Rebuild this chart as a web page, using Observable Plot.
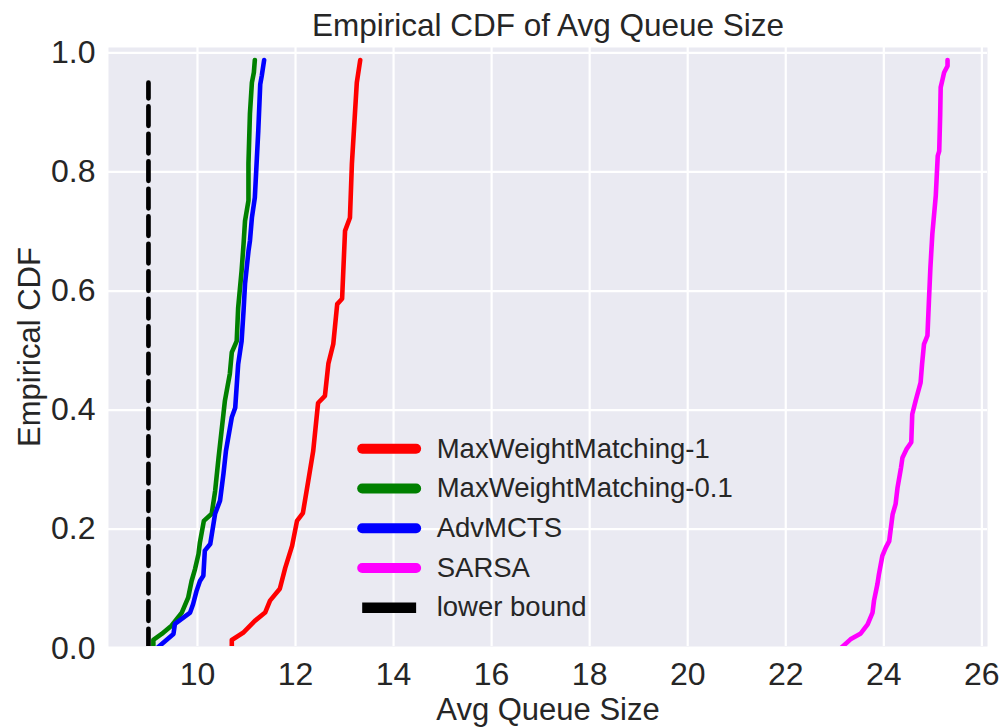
<!DOCTYPE html>
<html>
<head>
<meta charset="utf-8">
<script src="https://cdn.jsdelivr.net/npm/d3@7"></script>
<script src="https://cdn.jsdelivr.net/npm/@observablehq/plot@0.6"></script>
<style>
  html, body { margin: 0; padding: 0; background: #ffffff; }
  #chart { width: 1002px; height: 727px; }
  svg { font-family: "Liberation Sans", Arial, sans-serif; }
</style>
</head>
<body>
<div id="chart"></div>
<script>
// ---- data ----
const seriesNames = ["MaxWeightMatching-1", "MaxWeightMatching-0.1", "AdvMCTS", "SARSA"];
const seriesColors = ["#ff0000", "#008000", "#0000ff", "#ff00ff"];

const mwm1X = [10.70, 10.70, 10.93, 11.17, 11.38, 11.48, 11.68, 11.79, 11.93, 12.03, 12.15, 12.26, 12.36, 12.46, 12.60, 12.67, 12.77, 12.85, 12.95, 13.01, 13.11, 13.15, 13.25, 13.32];
const mwm1Y = [0.000, 0.014, 0.026, 0.046, 0.060, 0.080, 0.100, 0.135, 0.172, 0.214, 0.227, 0.281, 0.331, 0.412, 0.424, 0.478, 0.511, 0.578, 0.587, 0.701, 0.723, 0.814, 0.950, 0.988];

const mwm01X = [9.10, 9.10, 9.27, 9.47, 9.68, 9.81, 9.88, 9.95, 10.02, 10.05, 10.13, 10.29, 10.36, 10.43, 10.53, 10.56, 10.66, 10.70, 10.80, 10.83, 10.90, 10.94, 10.97, 11.04, 11.04, 11.07, 11.11, 11.15, 11.17];
const mwm01Y = [0.000, 0.014, 0.024, 0.038, 0.060, 0.085, 0.113, 0.133, 0.158, 0.178, 0.214, 0.226, 0.264, 0.320, 0.394, 0.416, 0.461, 0.497, 0.516, 0.572, 0.634, 0.679, 0.718, 0.752, 0.814, 0.898, 0.950, 0.967, 0.988];

const advX = [9.17, 9.51, 9.54, 9.85, 9.91, 9.98, 10.05, 10.12, 10.15, 10.26, 10.36, 10.46, 10.53, 10.58, 10.70, 10.77, 10.83, 10.90, 10.94, 10.97, 11.04, 11.07, 11.11, 11.17, 11.24, 11.28, 11.31, 11.36];
const advY = [0.000, 0.024, 0.041, 0.060, 0.074, 0.096, 0.113, 0.122, 0.164, 0.175, 0.226, 0.248, 0.293, 0.331, 0.388, 0.404, 0.477, 0.516, 0.567, 0.612, 0.667, 0.684, 0.723, 0.757, 0.869, 0.947, 0.961, 0.988];

const sarsaX = [23.12, 23.32, 23.53, 23.67, 23.77, 23.80, 23.87, 23.90, 23.97, 24.04, 24.11, 24.18, 24.24, 24.28, 24.35, 24.38, 24.46, 24.56, 24.58, 24.65, 24.75, 24.78, 24.82, 24.89, 24.92, 24.95, 24.99, 25.06, 25.10, 25.13, 25.15, 25.16, 25.20, 25.23, 25.30, 25.30];
const sarsaY = [0.000, 0.015, 0.025, 0.040, 0.060, 0.080, 0.108, 0.124, 0.155, 0.169, 0.180, 0.225, 0.242, 0.270, 0.303, 0.320, 0.334, 0.346, 0.393, 0.416, 0.446, 0.477, 0.511, 0.525, 0.583, 0.639, 0.696, 0.760, 0.827, 0.835, 0.897, 0.942, 0.956, 0.967, 0.978, 0.988];

const lowerBoundName = "lower bound";
const lowerBoundX = [9.0, 9.0];
const lowerBoundY = [0.0, 0.95];

const xTicks = [10, 12, 14, 16, 18, 20, 22, 24, 26];
const yTicks = [0.0, 0.2, 0.4, 0.6, 0.8, 1.0];

const titleText = "Empirical CDF of Avg Queue Size";
const xLabel = "Avg Queue Size";
const yLabel = "Empirical CDF";

// ---- build tables ----
const seriesX = [mwm1X, mwm01X, advX, sarsaX];
const seriesY = [mwm1Y, mwm01Y, advY, sarsaY];
const curves = seriesNames.flatMap((name, i) =>
  seriesX[i].map((x, j) => ({name, color: seriesColors[i], x, y: seriesY[i][j]})));
const lowerBound = lowerBoundX.map((x, j) => ({x, y: lowerBoundY[j]}));

// legend entries (placed inside the plot, in data units)
const legendNames = [...seriesNames, lowerBoundName];
const legendColors = [...seriesColors, "#000000"];
const legendTop = 0.335, legendStep = 0.0667;
const legendX1 = 13.36, legendX2 = 14.46, legendTextX = 14.88;
const legend = legendNames.map((name, i) => ({
  name, color: legendColors[i], y: legendTop - i * legendStep, dashed: i === 4
}));

const ink = "#262626";
const font = "'Liberation Sans', Arial, sans-serif";

const chart = Plot.plot({
  width: 1002,
  height: 727,
  marginLeft: 108,
  marginRight: 15,
  marginTop: 47,
  marginBottom: 81,
  style: {fontFamily: font, background: "#ffffff", color: ink},
  x: {domain: [8.185, 26.115]},
  y: {domain: [0.003, 1.009]},
  color: {type: "identity"},
  marks: [
    Plot.frame({fill: "#EAEAF2", stroke: null}),
    Plot.gridX(xTicks, {stroke: "#ffffff", strokeOpacity: 1, strokeWidth: 2.2}),
    Plot.gridY(yTicks.filter(d => d > 0), {stroke: "#ffffff", strokeOpacity: 1, strokeWidth: 2.2}),
    Plot.axisX(xTicks, {tickSize: 0, tickPadding: 16, fontSize: 32, fill: ink, label: null}),
    Plot.axisY(yTicks, {tickSize: 0, tickPadding: 13, fontSize: 32, fill: ink, label: null, tickFormat: d3.format(".1f")}),
    Plot.line(curves, {x: "x", y: "y", z: "name", stroke: "color", strokeWidth: 4.6, strokeLinejoin: "round", strokeLinecap: "round", clip: true}),
    Plot.line(lowerBound, {x: "x", y: "y", stroke: "#000000", strokeWidth: 4.7, strokeDasharray: "19.5,8", clip: true}),
    // legend
    Plot.link(legend.filter(d => !d.dashed), {x1: () => legendX1, x2: () => legendX2, y1: "y", y2: "y", stroke: "color", strokeWidth: 10, strokeLinecap: "round"}),
    Plot.link(legend.filter(d => d.dashed), {x1: () => legendX1, x2: () => legendX2, y1: "y", y2: "y", stroke: "color", strokeWidth: 10.5, strokeLinecap: "butt"}),
    Plot.text(legend, {x: () => legendTextX, y: "y", text: "name", textAnchor: "start", lineAnchor: "middle", fontSize: 27.5, fill: ink}),
    // title and axis labels
    Plot.text([titleText], {frameAnchor: "top", dy: -22, textAnchor: "middle", lineAnchor: "middle", fontSize: 31.5, fill: ink}),
    Plot.text([xLabel], {frameAnchor: "bottom", dy: 64, textAnchor: "middle", lineAnchor: "middle", fontSize: 31, fill: ink}),
    Plot.text([yLabel], {frameAnchor: "left", dx: -78, rotate: -90, textAnchor: "middle", lineAnchor: "middle", fontSize: 31, fill: ink})
  ]
});
document.getElementById("chart").appendChild(chart);
</script>
</body>
</html>
